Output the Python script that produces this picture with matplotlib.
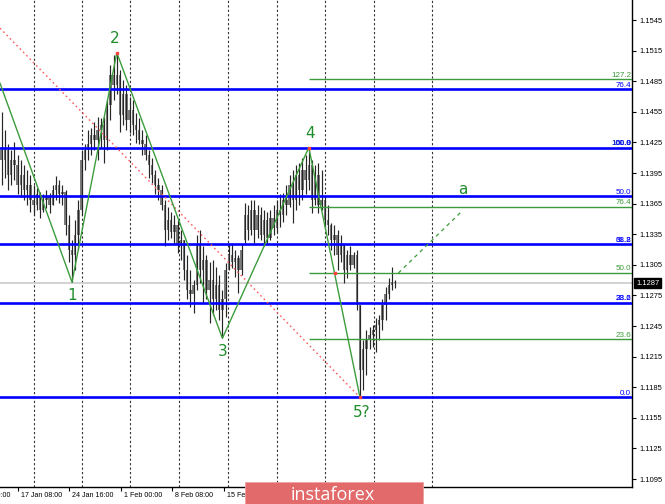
import matplotlib
matplotlib.use("Agg")
import matplotlib.pyplot as plt
from matplotlib.patches import Rectangle
from matplotlib.transforms import blended_transform_factory

# ---------------- data (EURUSD, each candle = two H4 bars) ----------------
opens = [1.1418, 1.1408, 1.1418, 1.1393, 1.1408, 1.1403, 1.1383, 1.1393, 1.1378, 1.1383,
         1.1369, 1.1364, 1.1374, 1.1359, 1.1369, 1.1371, 1.1364, 1.1378, 1.1383, 1.1374,
         1.1376, 1.1344, 1.1320, 1.1315, 1.1334, 1.1359, 1.1408, 1.1418, 1.1423, 1.1432,
         1.1427, 1.1437, 1.1442, 1.1427, 1.1462, 1.1491, 1.1481, 1.1491, 1.1452, 1.1472,
         1.1447, 1.1457, 1.1442, 1.1437, 1.1427, 1.1423, 1.1413, 1.1403, 1.1393, 1.1383,
         1.1378, 1.1364, 1.1339, 1.1349, 1.1337, 1.1344, 1.1325, 1.1329, 1.1300, 1.1280,
         1.1276, 1.1285, 1.1325, 1.1300, 1.1310, 1.1280, 1.1290, 1.1271, 1.1285, 1.1261,
         1.1271, 1.1300, 1.1315, 1.1308, 1.1312, 1.1300, 1.1329, 1.1354, 1.1339, 1.1359,
         1.1339, 1.1354, 1.1334, 1.1349, 1.1331, 1.1351, 1.1341, 1.1359, 1.1354, 1.1369,
         1.1364, 1.1383, 1.1369, 1.1393, 1.1378, 1.1398, 1.1388, 1.1403, 1.1369, 1.1393,
         1.1364, 1.1369, 1.1349, 1.1344, 1.1329, 1.1334, 1.1315, 1.1325, 1.1300, 1.1315,
         1.1305, 1.1315, 1.1266, 1.1202, 1.1222, 1.1231, 1.1236, 1.1241, 1.1246, 1.1251,
         1.1266, 1.1276, 1.1285, 1.1288]
highs = [1.1455, 1.1437, 1.1423, 1.1418, 1.1425, 1.1413, 1.1408, 1.1403, 1.1398, 1.1393,
         1.1383, 1.1380, 1.1376, 1.1374, 1.1378, 1.1375, 1.1383, 1.1392, 1.1388, 1.1383,
         1.1378, 1.1354, 1.1329, 1.1349, 1.1369, 1.1418, 1.1423, 1.1437, 1.1439, 1.1445,
         1.1450, 1.1449, 1.1450, 1.1467, 1.1501, 1.1511, 1.1513, 1.1496, 1.1486, 1.1481,
         1.1470, 1.1467, 1.1454, 1.1449, 1.1437, 1.1432, 1.1418, 1.1410, 1.1398, 1.1390,
         1.1383, 1.1369, 1.1362, 1.1357, 1.1354, 1.1349, 1.1339, 1.1329, 1.1315, 1.1300,
         1.1290, 1.1334, 1.1339, 1.1323, 1.1315, 1.1308, 1.1310, 1.1303, 1.1295, 1.1280,
         1.1307, 1.1326, 1.1325, 1.1320, 1.1315, 1.1325, 1.1366, 1.1364, 1.1369, 1.1369,
         1.1364, 1.1362, 1.1359, 1.1357, 1.1359, 1.1364, 1.1369, 1.1374, 1.1375, 1.1383,
         1.1393, 1.1398, 1.1403, 1.1405, 1.1410, 1.1413, 1.1420, 1.1408, 1.1403, 1.1405,
         1.1398, 1.1372, 1.1364, 1.1346, 1.1344, 1.1339, 1.1334, 1.1325, 1.1320, 1.1323,
         1.1318, 1.1320, 1.1266, 1.1231, 1.1241, 1.1244, 1.1246, 1.1253, 1.1256, 1.1271,
         1.1283, 1.1292, 1.1303, 1.1290]
lows = [1.1383, 1.1390, 1.1378, 1.1383, 1.1388, 1.1374, 1.1371, 1.1369, 1.1364, 1.1357,
        1.1354, 1.1359, 1.1351, 1.1357, 1.1361, 1.1356, 1.1364, 1.1369, 1.1366, 1.1364,
        1.1334, 1.1308, 1.1288, 1.1300, 1.1320, 1.1354, 1.1398, 1.1408, 1.1413, 1.1418,
        1.1408, 1.1420, 1.1405, 1.1418, 1.1447, 1.1467, 1.1472, 1.1435, 1.1442, 1.1437,
        1.1434, 1.1432, 1.1424, 1.1423, 1.1413, 1.1408, 1.1390, 1.1385, 1.1374, 1.1369,
        1.1359, 1.1323, 1.1329, 1.1331, 1.1325, 1.1317, 1.1310, 1.1290, 1.1271, 1.1264,
        1.1258, 1.1280, 1.1287, 1.1268, 1.1271, 1.1248, 1.1256, 1.1261, 1.1251, 1.1233,
        1.1254, 1.1300, 1.1302, 1.1293, 1.1277, 1.1295, 1.1326, 1.1329, 1.1334, 1.1326,
        1.1331, 1.1329, 1.1323, 1.1325, 1.1329, 1.1334, 1.1337, 1.1342, 1.1347, 1.1354,
        1.1362, 1.1346, 1.1359, 1.1364, 1.1369, 1.1374, 1.1378, 1.1356, 1.1364, 1.1356,
        1.1359, 1.1342, 1.1334, 1.1320, 1.1315, 1.1300, 1.1308, 1.1287, 1.1292, 1.1300,
        1.1302, 1.1261, 1.1175, 1.1182, 1.1197, 1.1222, 1.1224, 1.1220, 1.1231, 1.1241,
        1.1251, 1.1271, 1.1280, 1.1282]
closes = [1.1408, 1.1418, 1.1393, 1.1408, 1.1403, 1.1383, 1.1393, 1.1378, 1.1383, 1.1369,
          1.1364, 1.1374, 1.1359, 1.1369, 1.1371, 1.1364, 1.1378, 1.1383, 1.1374, 1.1376,
          1.1344, 1.1320, 1.1315, 1.1334, 1.1359, 1.1408, 1.1418, 1.1423, 1.1432, 1.1427,
          1.1437, 1.1442, 1.1427, 1.1462, 1.1491, 1.1481, 1.1491, 1.1452, 1.1472, 1.1447,
          1.1457, 1.1442, 1.1437, 1.1427, 1.1423, 1.1413, 1.1403, 1.1393, 1.1383, 1.1378,
          1.1364, 1.1339, 1.1349, 1.1337, 1.1344, 1.1325, 1.1329, 1.1300, 1.1280, 1.1276,
          1.1285, 1.1325, 1.1300, 1.1310, 1.1280, 1.1290, 1.1271, 1.1285, 1.1261, 1.1271,
          1.1300, 1.1315, 1.1308, 1.1312, 1.1300, 1.1320, 1.1354, 1.1339, 1.1359, 1.1339,
          1.1354, 1.1334, 1.1349, 1.1331, 1.1351, 1.1341, 1.1359, 1.1354, 1.1369, 1.1364,
          1.1383, 1.1369, 1.1393, 1.1378, 1.1398, 1.1388, 1.1403, 1.1369, 1.1393, 1.1364,
          1.1369, 1.1349, 1.1344, 1.1329, 1.1334, 1.1315, 1.1325, 1.1300, 1.1315, 1.1305,
          1.1315, 1.1266, 1.1202, 1.1222, 1.1231, 1.1236, 1.1241, 1.1246, 1.1251, 1.1266,
          1.1276, 1.1285, 1.1288, 1.1287]

current_price = 1.1287

# Elliott wave path (candle index, price) and labels
wave_x = [-0.5, 22, 36, 69, 96, 112]
wave_y = [1.1483, 1.1288, 1.1513, 1.1233, 1.1420, 1.1175]
wave_labels = ["1", "2", "3", "4", "5?", "a"]
wave_label_x = [22, 35.4, 69.2, 96.4, 112.6, 144.2]
wave_label_y = [1.1275, 1.1527, 1.1220, 1.1434, 1.1160, 1.1379]

# projection toward wave a
proj_x = [124, 144]
proj_y = [1.1297, 1.1358]

# red dotted trend line
red_x = [-0.5, 112]
red_y = [1.1537, 1.1175]

# anchor markers
anchor_x = [36, 96, 104.3, 112]
anchor_y = [1.1513, 1.1420, 1.1297, 1.1175]

# Fibonacci levels
blue_levels = [1.1477, 1.1420, 1.1372, 1.1325, 1.1268, 1.1175]
green_levels = [1.1487, 1.1362, 1.1297, 1.1232]
green_start = 96
fib_text = ["127.2", "76.4", "100.0", "100.0", "61.8", "50.0", "76.4", "61.8", "38.2",
            "50.0", "38.2", "23.6", "23.6", "0.0"]
fib_price = [1.1487, 1.1477, 1.1420, 1.1420, 1.1420, 1.1372, 1.1362, 1.1325, 1.1325,
             1.1297, 1.1268, 1.1268, 1.1232, 1.1175]
fib_color = ["g", "b", "g", "b", "b", "b", "g", "b", "b", "g", "b", "b", "g", "b"]

price_ticks = [1.1095, 1.1125, 1.1155, 1.1185, 1.1215, 1.1245, 1.1275, 1.1305,
               1.1335, 1.1365, 1.1395, 1.1425, 1.1455, 1.1485, 1.1515, 1.1545]

time_tick_pos = [-11.0, 5.0, 21.1, 37.2, 53.3, 69.5, 85.6, 101.7, 117.9]
time_labels = ["10 Jan 00:00", "17 Jan 08:00", "24 Jan 16:00", "1 Feb 00:00",
               "8 Feb 08:00", "15 Feb 16:00", "25 Feb 00:00", "4 Mar 08:00", "11 Mar 16:00"]
vgrid_pos = [10.1, 25.1, 40.1, 55.4, 70.75, 86.1, 101.1, 116.4, 134.5]

# ---------------- drawing ----------------
BLUE = "#0000ff"
GREEN = "#3c9c3c"
LABEL_GREEN = "#1f8c2a"
colors = {"b": BLUE, "g": "#3a9a3a"}

plt.rcParams["font.family"] = ["Liberation Sans", "DejaVu Sans"]

fig = plt.figure(figsize=(6.65, 5.04), dpi=100)
fig.patch.set_facecolor("white")
ax = fig.add_axes([0, 17 / 504, 632 / 665, 487 / 504])
ax.set_facecolor("white")
ax.set_xlim(-0.5, 197.0)
ax.set_ylim(1.108716, 1.156461)

# grid verticals
for v in vgrid_pos:
    ax.axvline(v, color="#333333", lw=0.8, ls=(0, (2, 2)), zorder=1)

# current price line
ax.axhline(current_price, color="#cfcfcf", lw=1.3, zorder=1)

# candles
n = len(opens)
for i in range(n):
    o, h, l, c = opens[i], highs[i], lows[i], closes[i]
    lo_b, hi_b = min(o, c), max(o, c)
    if hi_b - lo_b < 0.00005:
        hi_b = lo_b + 0.00005
    ax.bar(i, hi_b - lo_b, bottom=lo_b, width=0.8, color="#7c7c7c",
           edgecolor="none", zorder=3)
    ax.vlines(i, l, h, color="#262626", lw=0.85, zorder=4)

# fib horizontal lines
for lv in blue_levels:
    ax.axhline(lv, color=BLUE, lw=1.9, zorder=5)
for lv in green_levels:
    ax.hlines(lv, green_start, 197.0, color=GREEN, lw=1.0, zorder=5)

trans_xa = blended_transform_factory(ax.transAxes, ax.transData)
for t, p, col in zip(fib_text, fib_price, fib_color):
    ax.text(0.9985, p + 0.00005, t, transform=trans_xa, ha="right", va="bottom",
            fontsize=5.8, color=colors[col], zorder=6)

# red dotted trend line
ax.plot(red_x, red_y, color="#ff5a5a", lw=1.0, ls=(0, (1.2, 2.2)), zorder=5)

# wave lines
ax.plot(wave_x, wave_y, color=GREEN, lw=1.0, zorder=6)
ax.plot(proj_x, proj_y, color=GREEN, lw=0.9, ls=(0, (3, 3)), zorder=6)
ax.plot(anchor_x, anchor_y, ls="none", marker="s", ms=2, color="#ff4040", zorder=7)

for t, x, y in zip(wave_labels, wave_label_x, wave_label_y):
    ax.text(x, y, t, ha="center", va="center", fontsize=11, color=LABEL_GREEN,
            family=["DejaVu Sans"], zorder=7)

# axes / ticks
for s in ["left", "top"]:
    ax.spines[s].set_visible(False)
for s in ["right", "bottom"]:
    ax.spines[s].set_color("black")
    ax.spines[s].set_linewidth(1.0)
ax.yaxis.tick_right()
ax.set_yticks(price_ticks)
ax.set_yticklabels([f"{p:.4f}" for p in price_ticks])
ax.tick_params(axis="y", length=3, width=0.8, pad=2, labelsize=5.4, colors="black")
ax.set_xticks(time_tick_pos[1:])
ax.set_xticklabels([])
ax.tick_params(axis="x", length=3, width=0.8, direction="out")

trans_dx = blended_transform_factory(ax.transData, ax.transAxes)
for pos, lab in zip(time_tick_pos, time_labels):
    ax.text(pos + 0.95, -0.0165, lab, transform=trans_dx, ha="left", va="center",
            fontsize=5.1, color="black", clip_on=False)

# current price tag
ax.text(1.0 + 4 / 632, current_price, f"{current_price:.4f}", transform=trans_xa,
        ha="left", va="center", fontsize=5.4, color="white", clip_on=False, zorder=10,
        bbox=dict(facecolor="black", edgecolor="black", pad=1.3))

# watermark
fig.patches.append(Rectangle((245 / 665, 0), 178 / 665, 22 / 504, transform=fig.transFigure,
                             facecolor="#e26a6a", edgecolor="#f0a0a0", lw=0.6, zorder=20))
fig.text(333 / 665, 9 / 504, "instaforex", ha="center", va="center", fontsize=13,
         color="white", family=["Open Sans", "DejaVu Sans"], zorder=21)

fig.savefig("out.png", dpi=100)
